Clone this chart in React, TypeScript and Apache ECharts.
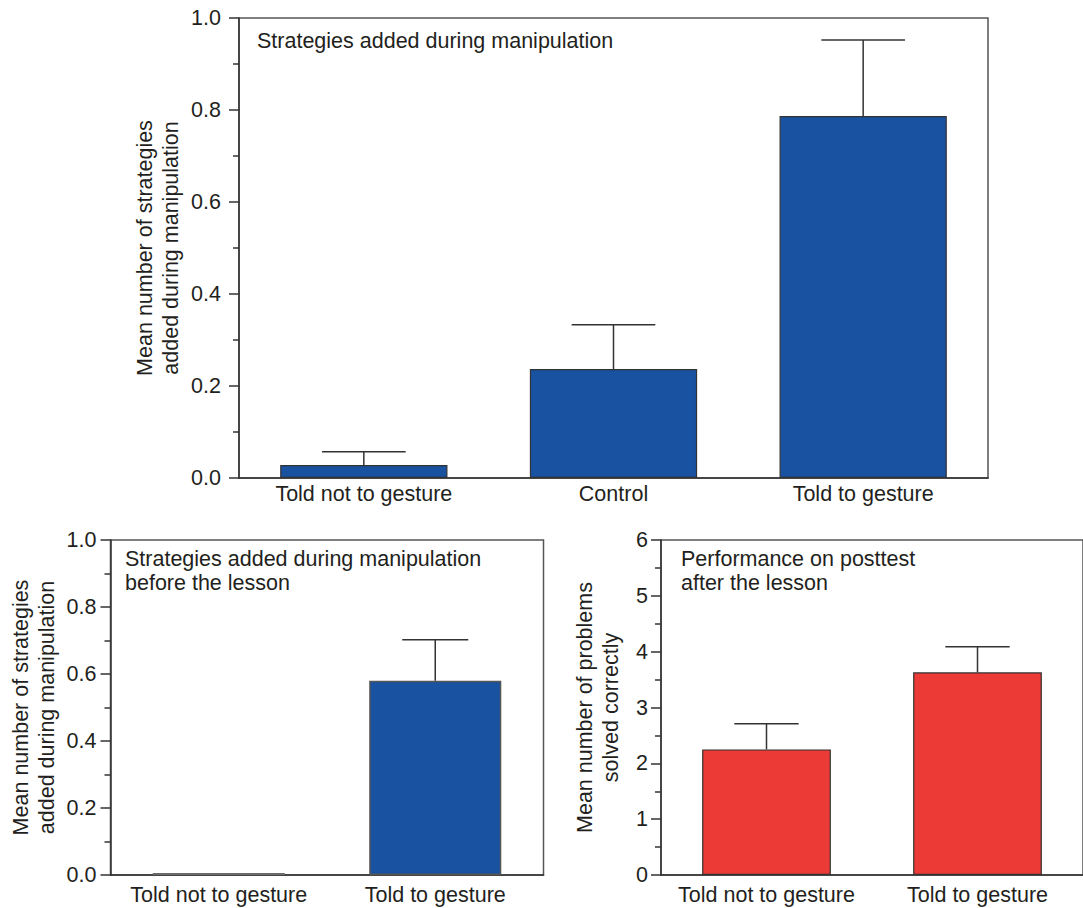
import React, { useEffect, useRef } from "react";
import * as echarts from "echarts";

const topCategories = ["Told not to gesture", "Control", "Told to gesture"];
const topMeans = [0.028, 0.237, 0.787];
const topErrTops = [0.057, 0.333, 0.952];

const bottomCategories = ["Told not to gesture", "Told to gesture"];
const beforeMeans = [0, 0.58];
const beforeErrTops = [0, 0.702];
const posttestMeans = [2.25, 3.63];
const posttestErrTops = [2.71, 4.09];

const strategyTicks = [0, 0.2, 0.4, 0.6, 0.8, 1.0];
const posttestTicks = [0, 1, 2, 3, 4, 5, 6];

const FONT = "'Liberation Sans', Arial, Helvetica, sans-serif";
const FS = 21.5;
const TXT = "#231f20";
const AX = "#333333";
const BLUE = "#1a52a2";
const RED = "#ec3a37";

function errSeries(idx: number, means: number[], tops: number[], pct: number) {
  return {
    type: "custom",
    xAxisIndex: idx,
    yAxisIndex: idx,
    z: 5,
    encode: { x: 0, y: 1 },
    data: means.map((m, i) => [i, m, tops[i]]),
    renderItem: (params: any, api: any) => {
      const i = api.value(0);
      const v = api.value(1);
      const e = api.value(2);
      if (!(e > v)) return null;
      const base = api.coord([i, v]);
      const top = api.coord([i, e]);
      const band = api.size([1, 0])[0];
      const half = (band * pct) / 4;
      const st = { stroke: AX, lineWidth: 1.5 };
      return {
        type: "group",
        children: [
          { type: "line", shape: { x1: base[0], y1: base[1], x2: top[0], y2: top[1] }, style: st },
          { type: "line", shape: { x1: top[0] - half, y1: top[1], x2: top[0] + half, y2: top[1] }, style: st },
        ],
      };
    },
  };
}

function yAxis(idx: number, ticks: number[], interval: number, digits: number, name: string, nameGap: number, margin: number) {
  return {
    type: "value",
    gridIndex: idx,
    min: ticks[0],
    max: ticks[ticks.length - 1],
    interval,
    name,
    nameLocation: "middle",
    nameGap,
    nameMoveOverlap: false,
    nameTextStyle: { fontSize: FS, color: TXT, fontFamily: FONT, lineHeight: 26 },
    axisLine: { show: true, lineStyle: { color: AX, width: 1.5 } },
    axisTick: { show: true, length: 10, lineStyle: { color: AX, width: 1.5 } },
    minorTick: { show: true, splitNumber: 2, length: 6, lineStyle: { color: AX, width: 1.5 } },
    splitLine: { show: false },
    minorSplitLine: { show: false },
    axisLabel: {
      fontSize: FS,
      color: TXT,
      fontFamily: FONT,
      margin,
      formatter: (v: number) => v.toFixed(digits),
    },
  };
}

function xAxis(idx: number, cats: string[], margin: number) {
  return {
    type: "category",
    gridIndex: idx,
    data: cats,
    axisLine: { show: true, lineStyle: { color: AX, width: 1.5 } },
    axisTick: { show: false },
    splitLine: { show: false },
    axisLabel: { fontSize: FS, color: TXT, fontFamily: FONT, margin, interval: 0 },
  };
}

export default function App() {
  const ref = useRef<HTMLDivElement>(null);
  useEffect(() => {
    if (!ref.current) return;
    const chart = echarts.init(ref.current, undefined, { renderer: "svg" });
    const gridStyle = { show: true, borderColor: "#555", borderWidth: 1.5, backgroundColor: "transparent" };
    chart.setOption({
      animation: false,
      backgroundColor: "#ffffff",
      grid: [
        { left: 239, top: 18, width: 749, height: 460, ...gridStyle },
        { left: 110.5, top: 540, width: 433, height: 335, ...gridStyle },
        { left: 661, top: 540, width: 433, height: 335, ...gridStyle },
      ],
      xAxis: [xAxis(0, topCategories, 5), xAxis(1, bottomCategories, 9), xAxis(2, bottomCategories, 9)],
      yAxis: [
        yAxis(0, strategyTicks, 0.2, 1, "Mean number of strategies\nadded during manipulation", 55, 18),
        yAxis(1, strategyTicks, 0.2, 1, "Mean number of strategies\nadded during manipulation", 51, 14),
        yAxis(2, posttestTicks, 1, 0, "Mean number of problems\nsolved correctly", 37, 13),
      ],
      graphic: [
        { type: "text", left: 257, top: 30, style: { text: "Strategies added during manipulation", fontSize: FS, fill: TXT, fontFamily: FONT } },
        {
          type: "text",
          left: 125,
          top: 547,
          style: { text: "Strategies added during manipulation\nbefore the lesson", fontSize: FS, lineHeight: 24, fill: TXT, fontFamily: FONT },
        },
        {
          type: "text",
          left: 681,
          top: 547,
          style: { text: "Performance on posttest\nafter the lesson", fontSize: FS, lineHeight: 24, fill: TXT, fontFamily: FONT },
        },
      ],
      series: [
        {
          type: "bar",
          xAxisIndex: 0,
          yAxisIndex: 0,
          data: topMeans,
          barWidth: "67%",
          itemStyle: { color: BLUE, borderColor: AX, borderWidth: 1.2 },
        },
        errSeries(0, topMeans, topErrTops, 0.67),
        {
          type: "bar",
          xAxisIndex: 1,
          yAxisIndex: 1,
          data: beforeMeans.map((v) =>
            v === 0 ? { value: v, itemStyle: { color: "#6b6b6b", borderColor: "#6b6b6b", borderWidth: 1.5 } } : v
          ),
          barWidth: "61%",
          barMinHeight: 2,
          itemStyle: { color: BLUE, borderColor: "#555", borderWidth: 1.5 },
        },
        errSeries(1, beforeMeans, beforeErrTops, 0.61),
        {
          type: "bar",
          xAxisIndex: 2,
          yAxisIndex: 2,
          data: posttestMeans,
          barWidth: "61%",
          itemStyle: { color: RED, borderColor: AX, borderWidth: 1.2 },
        },
        errSeries(2, posttestMeans, posttestErrTops, 0.61),
      ],
    });
    return () => chart.dispose();
  }, []);
  return <div ref={ref} style={{ position: "fixed", left: 0, top: 0, width: 1083, height: 908, background: "#fff" }} />;
}
